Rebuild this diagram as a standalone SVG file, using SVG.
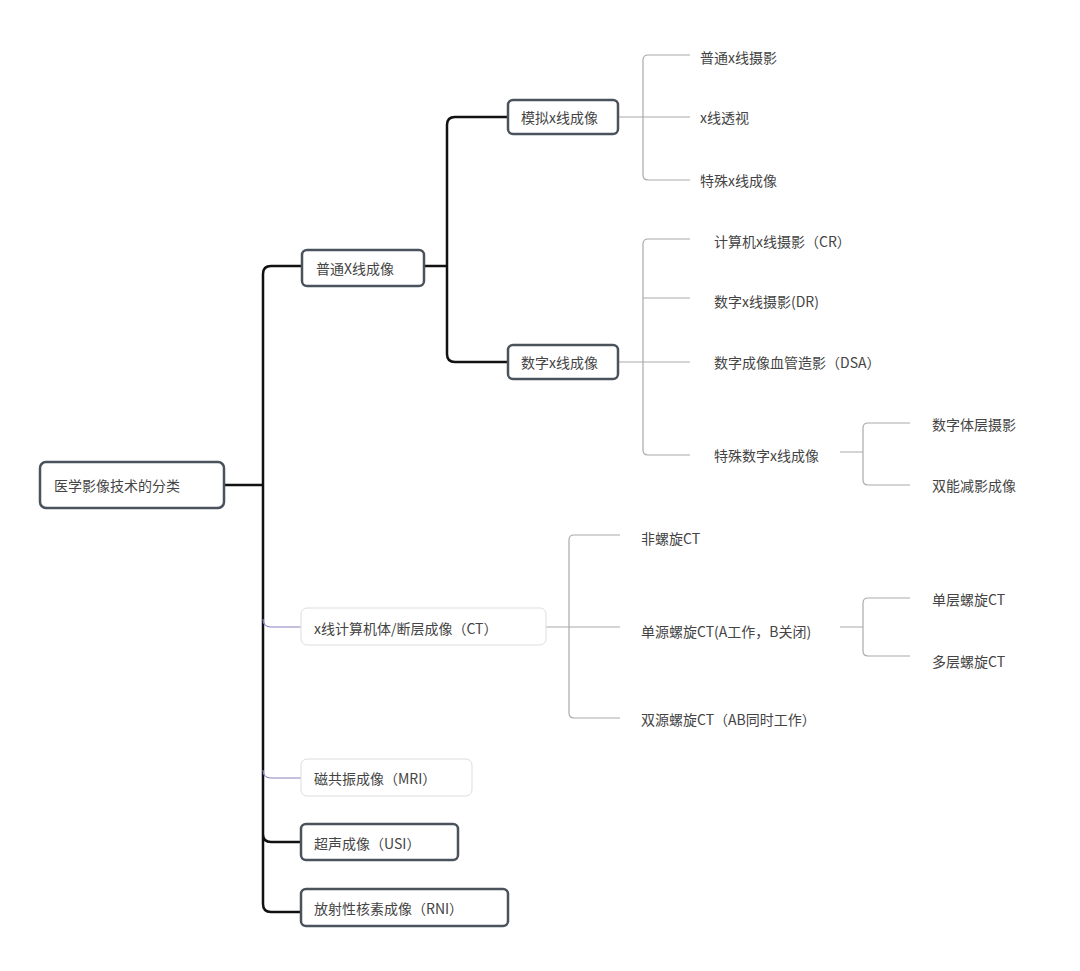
<svg xmlns="http://www.w3.org/2000/svg" width="1080" height="971" viewBox="0 0 1080 971">
<style>
text{font-family:"Noto Sans CJK SC","Liberation Sans",sans-serif;fill:#444;font-size:14px;dominant-baseline:central}
.b{fill:#fff;stroke:#4a525c;stroke-width:2.5}
.l{fill:#fff;stroke:#ddd;stroke-width:1}
.k{fill:none;stroke:#111;stroke-width:2.5}
.g{fill:none;stroke:#aaa;stroke-width:1.2}
.p{fill:none;stroke:#8c80c0;stroke-width:1.2}
</style>
<rect width="1080" height="971" fill="#fff"/>
<g id="connectors">
<path class="k" d="M224 485H263M263 485V274Q263 266 271 266H302M263 485V904Q263 912 271 912H302M263 834Q263 842 271 842H302"/>
<path class="p" d="M263 619Q263 627 271 627H301M263 770Q263 778 271 778H301"/>
<path class="k" d="M424 266H447M447 266V125Q447 117 455 117H508M447 266V354Q447 362 455 362H508"/>
<path class="g" d="M618 117H643M643 117V60Q643 55 648 55H690M643 117H690M643 117V175Q643 180 648 180H690"/>
<path class="g" d="M618 362H643M643 362V244Q643 239 648 239H690M643 298H690M643 362H690M643 362V450Q643 455 648 455H690"/>
<path class="g" d="M840 452H863M863 452V428Q863 423 868 423H910M863 452V480Q863 485 868 485H910"/>
<path class="g" d="M546 627H569M569 627V540Q569 535 574 535H620M569 627H620M569 627V713Q569 718 574 718H620"/>
<path class="g" d="M840 627H863M863 627V603Q863 598 868 598H910M863 627V651Q863 656 868 656H910"/>
</g>
<g id="root"><rect class="b" x="40" y="462" width="184" height="46" rx="6"/><text x="54" y="485" font-size="17">医学影像技术的分类</text></g>
<g id="n1"><rect class="b" x="302" y="250" width="122" height="36" rx="5"/><text x="316" y="268" font-size="15">普通X线成像</text></g>
<g id="n11"><rect class="b" x="508" y="100" width="110" height="34" rx="5"/><text x="521" y="117">模拟x线成像</text></g>
<g id="n12"><rect class="b" x="508" y="345" width="110" height="34" rx="5"/><text x="521" y="362">数字x线成像</text></g>
<g id="l1"><text x="700" y="57">普通x线摄影</text></g>
<g id="l2"><text x="700" y="117">x线透视</text></g>
<g id="l3"><text x="700" y="180">特殊x线成像</text></g>
<g id="l4"><text x="714" y="241">计算机x线摄影（CR）</text></g>
<g id="l5"><text x="714" y="301">数字x线摄影(DR)</text></g>
<g id="l6"><text x="714" y="362">数字成像血管造影（DSA）</text></g>
<g id="l7"><text x="714" y="455">特殊数字x线成像</text></g>
<g id="l8"><text x="932" y="424">数字体层摄影</text></g>
<g id="l9"><text x="932" y="485">双能减影成像</text></g>
<g id="n2"><rect class="l" x="301" y="608" width="245" height="37" rx="6"/><text x="314" y="628" font-size="15">x线计算机体/断层成像（CT）</text></g>
<g id="c1"><text x="641" y="538">非螺旋CT</text></g>
<g id="c2"><text x="641" y="631">单源螺旋CT(A工作，B关闭)</text></g>
<g id="c3"><text x="641" y="719">双源螺旋CT（AB同时工作）</text></g>
<g id="c4"><text x="932" y="599">单层螺旋CT</text></g>
<g id="c5"><text x="932" y="661">多层螺旋CT</text></g>
<g id="n3"><rect class="l" x="301" y="759" width="171" height="37" rx="6"/><text x="314" y="778" font-size="15">磁共振成像（MRI）</text></g>
<g id="n4"><rect class="b" x="301" y="824" width="157" height="36" rx="5"/><text x="314" y="843" font-size="15">超声成像（USI）</text></g>
<g id="n5"><rect class="b" x="301" y="889" width="207" height="37" rx="5"/><text x="314" y="908" font-size="15">放射性核素成像（RNI）</text></g>
</svg>
